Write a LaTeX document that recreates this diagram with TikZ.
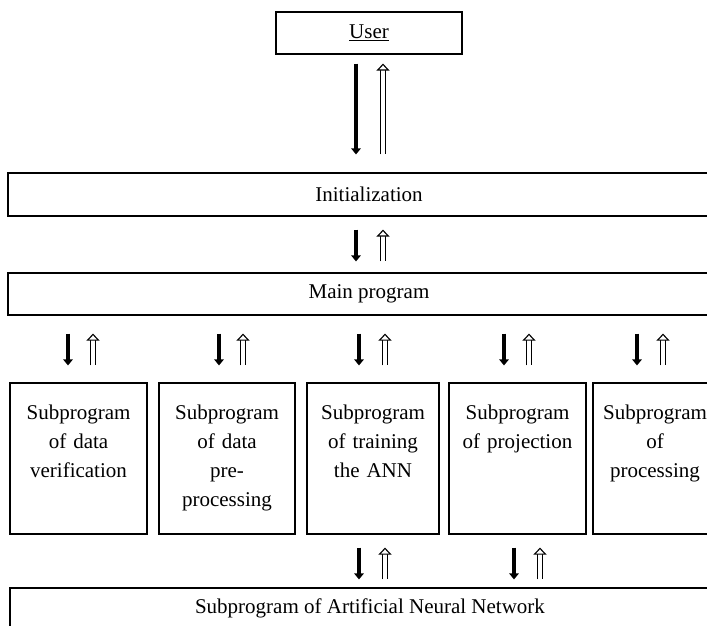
\documentclass[tikz,border=0pt]{standalone}
\usepackage{fontspec}
\setmainfont{Liberation Serif}
\usepackage{tikz}
\usetikzlibrary{arrows.meta}
\usetikzlibrary{shapes,positioning}
\tikzset{>=stealth,
  box/.style={draw,line width=1.2pt,rectangle,inner sep=0pt},
  subtext/.style={text width=120pt,align=center,inner sep=0pt,anchor=north},
  downarr/.style={line width=4.5pt,-{Triangle[width=9.5pt,length=6pt]}},
  uparr/.style={double,line width=1.1pt,double distance=4pt,
    -{Triangle[open,fill=white,width=13pt,length=7pt,line width=1.1pt]}}}

\begin{document}
\begin{tikzpicture}[x=1pt,y=1pt,font=\fontsize{21}{29}\selectfont]

  \useasboundingbox (0,0) rectangle (707,625);
  \clip (0,0) rectangle (707,625);

  \node [box,minimum width=186pt,minimum height=42pt] (user) at (369,592) {\underline{User}};
  \node [box,minimum width=722pt,minimum height=43pt] (init) at (369,430.5) {Initialization};
  \node [box,minimum width=722pt,minimum height=42pt] (main) at (369,331) {Main program};


  \node [box,minimum width=137pt,minimum height=151pt] (verif) at (78.5,166.5) {};
  \node [box,minimum width=136pt,minimum height=151pt] (prep) at (227,166.5) {};
  \node [box,minimum width=132pt,minimum height=151pt] (train) at (373,166.5) {};
  \node [box,minimum width=137pt,minimum height=151pt] (proj) at (517.5,166.5) {};
  \node [box,minimum width=124pt,minimum height=151pt] (proc) at (655,166.5) {};

  \node [subtext,below=22pt of verif.north] {Subprogram\\of data\\verification};
  \node [subtext,below=22pt of prep.north] {Subprogram\\of data\\pre-\\processing};
  \node [subtext,below=22pt of train.north] {Subprogram\\of training\\the ANN};
  \node [subtext,below=22pt of proj.north] {Subprogram\\of projection};
  \node [subtext,below=22pt of proc.north] {Subprogram\\of\\processing};


  \node [box,minimum width=720pt,minimum height=40pt] (ann) at (370,17) {Subprogram of Artificial Neural Network};



  \draw [downarr,shorten <=9pt,shorten >=18pt] ([xshift=-13pt]user.south) -- ([xshift=-13pt]init.north);
  \draw [uparr,shorten <=18pt,shorten >=9pt] ([xshift=14pt]init.north) -- ([xshift=14pt]user.south);

  \draw [downarr,shorten <=13pt,shorten >=11pt] ([xshift=-13pt]init.south) -- ([xshift=-13pt]main.north);
  \draw [uparr,shorten <=11pt,shorten >=13pt] ([xshift=14pt]main.north) -- ([xshift=14pt]init.south);


  \draw [downarr,shorten <=18pt,shorten >=17pt] ([xshift=-10.5pt]verif.north |- main.south) -- ([xshift=-10.5pt]verif.north);
  \draw [uparr,shorten <=17pt,shorten >=18pt] ([xshift=14.5pt]verif.north) -- ([xshift=14.5pt]verif.north |- main.south);

  \draw [downarr,shorten <=18pt,shorten >=17pt] ([xshift=-8pt]prep.north |- main.south) -- ([xshift=-8pt]prep.north);
  \draw [uparr,shorten <=17pt,shorten >=18pt] ([xshift=16pt]prep.north) -- ([xshift=16pt]prep.north |- main.south);

  \draw [downarr,shorten <=18pt,shorten >=17pt] ([xshift=-14pt]train.north |- main.south) -- ([xshift=-14pt]train.north);
  \draw [uparr,shorten <=17pt,shorten >=18pt] ([xshift=12pt]train.north) -- ([xshift=12pt]train.north |- main.south);

  \draw [downarr,shorten <=18pt,shorten >=17pt] ([xshift=-13.5pt]proj.north |- main.south) -- ([xshift=-13.5pt]proj.north);
  \draw [uparr,shorten <=17pt,shorten >=18pt] ([xshift=11.5pt]proj.north) -- ([xshift=11.5pt]proj.north |- main.south);

  \draw [downarr,shorten <=18pt,shorten >=17pt] ([xshift=-18pt]proc.north |- main.south) -- ([xshift=-18pt]proc.north);
  \draw [uparr,shorten <=17pt,shorten >=18pt] ([xshift=8pt]proc.north) -- ([xshift=8pt]proc.north |- main.south);


  \draw [downarr,shorten <=13pt,shorten >=8pt] ([xshift=-14pt]train.south) -- ([xshift=-14pt]train.south |- ann.north);
  \draw [uparr,shorten <=8pt,shorten >=13pt] ([xshift=12pt]train.south |- ann.north) -- ([xshift=12pt]train.south);

  \draw [downarr,shorten <=13pt,shorten >=8pt] ([xshift=-3.5pt]proj.south) -- ([xshift=-3.5pt]proj.south |- ann.north);
  \draw [uparr,shorten <=8pt,shorten >=13pt] ([xshift=22.5pt]proj.south |- ann.north) -- ([xshift=22.5pt]proj.south);

\end{tikzpicture}
\end{document}
